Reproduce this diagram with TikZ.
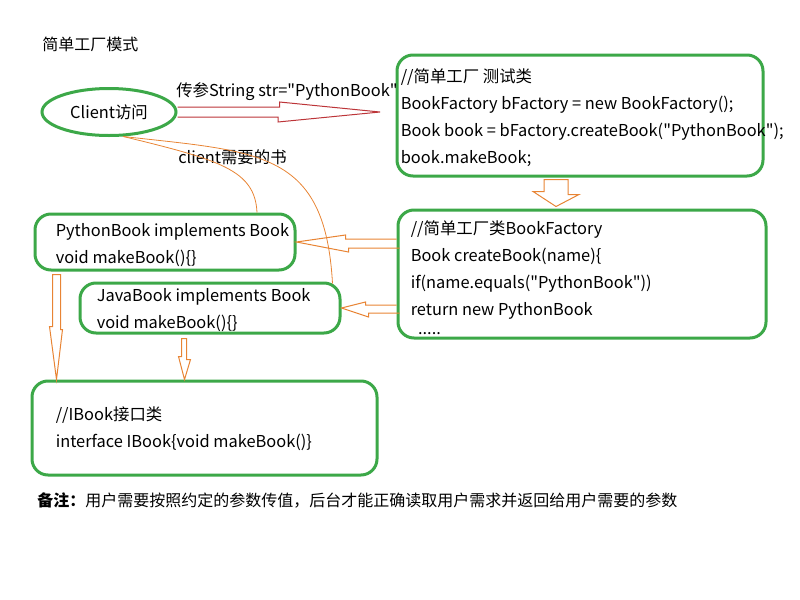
\documentclass[tikz,border=0pt]{standalone}
\usepackage{fontspec}
\setmainfont{Noto Sans CJK SC}[Ligatures=TeXOff]
\usetikzlibrary{shapes,positioning,calc}
\definecolor{boxgreen}{RGB}{60,168,72}
\definecolor{linkorange}{RGB}{232,132,52}
\definecolor{passred}{RGB}{188,52,56}

\begin{document}
\begin{tikzpicture}[
    x=0.75pt, y=-0.75pt,
    font=\fontsize{12.3}{20.25}\selectfont,
    codebox/.style={rectangle,rounded corners=12pt,draw=boxgreen,line width=2.25pt,inner sep=0pt},
    code/.style={align=left,inner sep=0pt,anchor=west},
    access/.style={ellipse,draw=boxgreen,line width=2.25pt,inner sep=0pt,minimum width=100.5pt,minimum height=35.25pt},
    hollow/.style={draw=linkorange,line width=0.75pt,line join=miter},
    passarrow/.style={draw=passred,line width=0.75pt,line join=miter},
    link/.style={draw=linkorange,line width=0.6pt}
    ]
        \useasboundingbox (0,0) rectangle (800,600);
        \node [anchor=west,inner sep=0pt](title) at (42,44) {\fontsize{12}{14}\selectfont 简单工厂模式};

        % client and the classes
        \node [access](client) at (109,112) {Client访问};
        \node [codebox,minimum width=274.5pt,minimum height=90.75pt](test) at (580,115.5) {};
        \node [codebox,minimum width=276pt,minimum height=96pt](factory) at (582,274) {};
        \node [codebox,minimum width=195pt,minimum height=42pt](python) at (165,242) {};
        \node [codebox,minimum width=195pt,minimum height=37.5pt](java) at (210,308) {};
        \node [codebox,minimum width=258.75pt,minimum height=70.5pt](ibook) at (204.5,428) {};

        \node [code](testtxt) at ($(test.west)+(5,2.5)$) {//简单工厂 测试类\\
            BookFactory bFactory = new BookFactory();\\
            Book book = bFactory.createBook("PythonBook");\\
            book.makeBook;};
        \node [code](factorytxt) at ($(factory.west)+(14,4)$) {//简单工厂类BookFactory\\
            Book createBook(name)\{\\
            if(name.equals("PythonBook"))\\
            return new PythonBook\\[-6pt]
            \ \ .....};
        \node [code](pythontxt) at ($(python.west)+(22,3.5)$) {PythonBook implements Book\\
            void makeBook()\{\}};
        \node [code](javatxt) at ($(java.west)+(18,2.5)$) {JavaBook implements Book\\
            void makeBook()\{\}};
        \node [code](ibooktxt) at ($(ibook.west)+(25,1)$) {//IBook接口类\\
            interface IBook\{void makeBook()\}};

        \node [anchor=west,inner sep=0pt](param) at (176,92) {传参String str="PythonBook"};
        \node [anchor=west,inner sep=0pt](need) at (178,157) {client需要的书};
        \node [anchor=west,inner sep=0pt](note) at (37,500) {\fontsize{12}{14}\selectfont\textbf{备注：}用户需要按照约定的参数传值，后台才能正确读取用户需求并返回给用户需要的参数};

        % arrows
        \coordinate (pin) at (380,112);
        \draw [passarrow] ($(client.east)+(0,-5)$) -- ++(102,0) -- ++(0,-5) -- (pin)
            -- ++(-102,10) -- ++(0,-5) -- ($(client.east)+(0,5)$);
        \draw [hollow] ($(test.south)+(-36,2)$) -- ++(24,0) -- ++(0,15) -- ++(11,0)
            -- ($(factory.north)+(-26,-2)$) -- ++(-23,-15) -- ++(11,0) -- cycle;
        \draw [hollow] ($(factory.west)+(0,-35)$) -- ++(-51,0) -- ++(0,-4) -- (python.east)
            -- ++(52,10) -- ++(0,-4) -- ++(51,0);
        \draw [hollow] ($(factory.west)+(0,31)$) -- ++(-31,0) -- ++(0,-3) -- (java.east)
            -- ++(27,9) -- ++(0,-4) -- ++(31,0);
        \draw [hollow] ($(python.south west)+(19,3)$) -- ++(8,0) -- ++(0,55) -- ++(2,0)
            -- ($(ibook.north west)+(26,0)$) -- ++(-7,-53) -- ++(3,0) -- cycle;
        \draw [hollow] ($(java.south west)+(103,4)$) -- ++(5,0) -- ++(0,21) -- ++(4,0)
            -- ($(ibook.north west)+(154,0)$) -- ++(-6,-23) -- ++(3,0) -- cycle;

        % client needs the book
        \draw [link] (client.300) .. controls (220,160) and (255,170) .. ($(python.north)+(92,0)$);
        \draw [link] (client.300) .. controls (260,152) and (325,150) .. ($(java.north east)+(-9,2)$);
\end{tikzpicture}
\end{document}
